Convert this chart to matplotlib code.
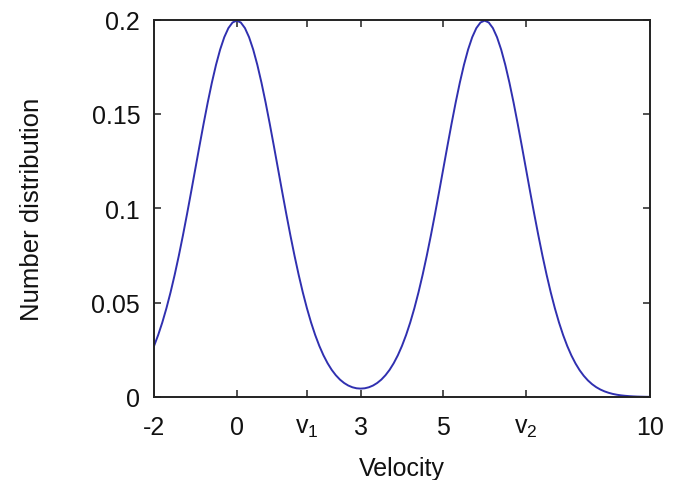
import numpy as np
import matplotlib
matplotlib.use('Agg')
import matplotlib.pyplot as plt

# velocity grid and number distribution (two peaks, at 0 and 6)
velocity = np.linspace(-2.0, 10.0, 121)
number_dist = [
    # -2.0 .. -0.1
    0.02700, 0.03281, 0.03947, 0.04702, 0.05546, 0.06476, 0.07486, 0.08568, 0.09709, 0.10893,
    0.12099, 0.13304, 0.14485, 0.15613, 0.16661, 0.17603, 0.18414, 0.19069, 0.19552, 0.19848,
    # 0.0 .. 0.9
    0.19947, 0.19848, 0.19552, 0.19069, 0.18414, 0.17603, 0.16661, 0.15613, 0.14485, 0.13304,
    # 1.0 .. 3.0
    0.12099, 0.10893, 0.09709, 0.08568, 0.07487, 0.06477, 0.05547, 0.04704, 0.03950, 0.03286,
    0.02707, 0.02209, 0.01789, 0.01437, 0.01151, 0.00920, 0.00741, 0.00607, 0.00515, 0.00461,
    0.00444,
    # 3.1 .. 5.0
    0.00461, 0.00515, 0.00607, 0.00741, 0.00920, 0.01151, 0.01437, 0.01789, 0.02209, 0.02707,
    0.03286, 0.03950, 0.04704, 0.05547, 0.06477, 0.07487, 0.08568, 0.09709, 0.10893, 0.12099,
    # 5.1 .. 6.0
    0.13304, 0.14485, 0.15613, 0.16661, 0.17603, 0.18414, 0.19069, 0.19552, 0.19848, 0.19947,
    # 6.1 .. 8.0
    0.19848, 0.19552, 0.19069, 0.18414, 0.17603, 0.16661, 0.15613, 0.14485, 0.13304, 0.12099,
    0.10893, 0.09709, 0.08568, 0.07486, 0.06476, 0.05546, 0.04702, 0.03947, 0.03281, 0.02700,
    # 8.1 .. 10.0
    0.02199, 0.01774, 0.01416, 0.01120, 0.00876, 0.00679, 0.00521, 0.00396, 0.00298, 0.00222,
    0.00163, 0.00119, 0.00086, 0.00062, 0.00044, 0.00031, 0.00021, 0.00015, 0.00010, 0.00007,
]

xtick_pos = [-2, 0, 1.7, 3, 5, 7, 10]
xtick_lab = ['-2', '0', r'$\mathregular{v_1}$', '3', '5', r'$\mathregular{v_2}$', '10']
ytick_pos = [0, 0.05, 0.1, 0.15, 0.2]
ytick_lab = ['0', '0.05', '0.1', '0.15', '0.2']

plt.rcParams['font.family'] = ['Liberation Sans', 'DejaVu Sans']
plt.rcParams['mathtext.fontset'] = 'custom'
plt.rcParams['mathtext.rm'] = 'Liberation Sans'

fig = plt.figure(figsize=(6.77, 4.81), dpi=100)
ax = fig.add_axes([0.2275, 0.1726, 0.7325, 0.7845])

ax.plot(velocity, number_dist, color='#3030b0', lw=1.4)

ax.set_xlim(-2, 10)
ax.set_ylim(0, 0.2)
ax.set_xticks(xtick_pos)
ax.set_xticklabels(xtick_lab)
ax.set_yticks(ytick_pos)
ax.set_yticklabels(ytick_lab)

fs = 18
ax.tick_params(direction='in', length=5, width=1.1, color='#222222',
               top=True, right=True, labelsize=fs, labelcolor='#111111')
ax.tick_params(axis='x', pad=13)
ax.tick_params(axis='y', pad=10)
for s in ax.spines.values():
    s.set_linewidth(1.4)
    s.set_color('#222222')

ax.set_xlabel('Velocity', fontsize=fs, color='#111111', labelpad=12)
ax.set_ylabel('Number distribution', fontsize=18.5, color='#111111', labelpad=34)

fig.savefig('out.png', dpi=100)
